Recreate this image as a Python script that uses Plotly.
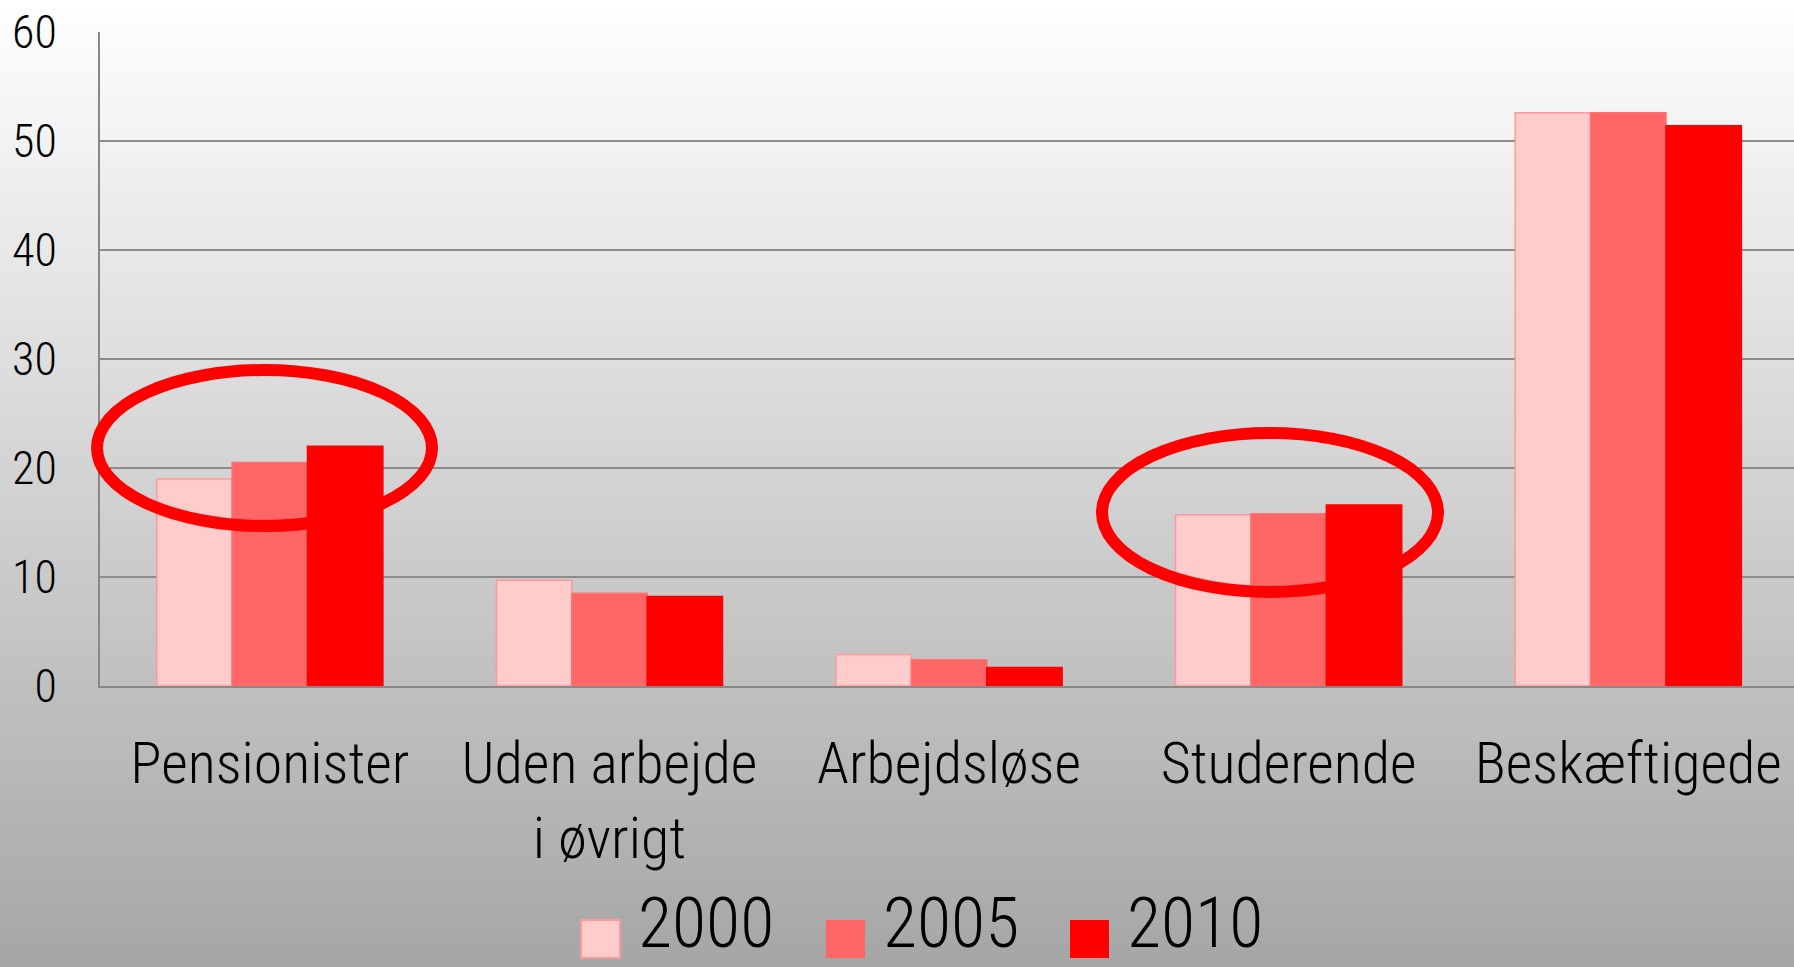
import plotly.graph_objects as go

categories = ["Pensionister", "Uden arbejde<br>i øvrigt", "Arbejdsløse", "Studerende", "Beskæftigede"]
years = ["2000", "2005", "2010"]
v2000 = [19.0, 9.7, 2.9, 15.7, 52.6]
v2005 = [20.5, 8.5, 2.4, 15.8, 52.6]
v2010 = [22.0, 8.2, 1.7, 16.6, 51.4]
y_ticks = [0, 10, 20, 30, 40, 50, 60]

series = [v2000, v2005, v2010]
fills = ["#FFCCCC", "#FF6666", "#FF0000"]
lines = ["#FF9999", "#FF7070", "#FF0000"]

FONT = "Roboto Condensed, DejaVu Sans Condensed, sans-serif"

W, H = 1794, 967
ML, MR, MT, MB = 100, 0, 32, 281
PW, PH = W - ML - MR, H - MT - MB


def px_x(px):
    return (px - ML) / PW


def px_y(py):
    return 1 - (py - MT) / PH


fig = go.Figure()
xs = list(range(len(categories)))
for name, vals, fc, lc in zip(years, series, fills, lines):
    fig.add_trace(go.Bar(
        x=xs, y=vals, name=name, showlegend=False,
        marker=dict(color=fc, line=dict(color=lc, width=1.5)),
    ))

shapes = []
# background gradient (white at top to gray at bottom)
N = 97
for i in range(N):
    top_px = i * H / N - 1
    bot_px = (i + 1) * H / N + 1
    t = (i + 0.5) / N
    g = round(255 - (255 - 166) * t)
    shapes.append(dict(
        type="rect", xref="paper", yref="paper", layer="below",
        x0=px_x(-10), x1=px_x(W + 10),
        y0=px_y(bot_px), y1=px_y(top_px),
        fillcolor=f"rgb({g},{g},{g})", line=dict(width=0),
    ))

# highlight ellipses (paper-referenced so they are not clipped at the axis)
shapes.append(dict(type="circle", xref="paper", yref="paper",
                   x0=px_x(97), x1=px_x(432), y0=px_y(526), y1=px_y(370),
                   line=dict(color="#FF0000", width=12)))
shapes.append(dict(type="circle", xref="paper", yref="paper",
                   x0=px_x(1102), x1=px_x(1438), y0=px_y(592), y1=px_y(433),
                   line=dict(color="#FF0000", width=12)))

# legend drawn from the series names / colours
annotations = []
leg_sq_x = [581, 826, 1070]
for name, fc, lc, sx in zip(years, fills, lines, leg_sq_x):
    shapes.append(dict(type="rect", xref="paper", yref="paper",
                       x0=px_x(sx), x1=px_x(sx + 39),
                       y0=px_y(958), y1=px_y(920),
                       fillcolor=fc, line=dict(color=lc, width=2 if name == "2000" else 0)))
    annotations.append(dict(xref="paper", yref="paper", x=px_x(sx + 55), y=px_y(923),
                            text=name, showarrow=False, xanchor="left", yanchor="middle",
                            font=dict(family=FONT, size=70, color="#000000", weight=300)))

fig.update_layout(
    width=W, height=H,
    margin=dict(l=ML, r=MR, t=MT, b=MB, pad=0, autoexpand=False),
    paper_bgcolor="#A6A6A6",
    plot_bgcolor="rgba(0,0,0,0)",
    barmode="group", bargap=0.334, bargroupgap=0,
    shapes=shapes, annotations=annotations,
    showlegend=False,
    xaxis=dict(
        tickmode="array", tickvals=xs, ticktext=categories,
        range=[-0.5, len(categories) - 0.512],
        showgrid=False, zeroline=False, automargin=False, tickangle=0,
        showline=True, linecolor="#888888", linewidth=2,
        ticks="", ticklabelstandoff=25,
        tickfont=dict(family=FONT, size=58, color="#000000", weight=300),
    ),
    yaxis=dict(
        range=[0, 60], tickmode="array", tickvals=y_ticks,
        showgrid=True, gridcolor="#8C8C8C", gridwidth=2, automargin=False,
        zeroline=False, showline=True, linecolor="#888888", linewidth=2,
        ticks="", ticklabelstandoff=32,
        tickfont=dict(family=FONT, size=46, color="#000000", weight=300),
    ),
)

fig.write_html("out.html", config={"displayModeBar": False},
               post_script="document.body.style.margin='0';document.body.style.overflow='hidden';")
